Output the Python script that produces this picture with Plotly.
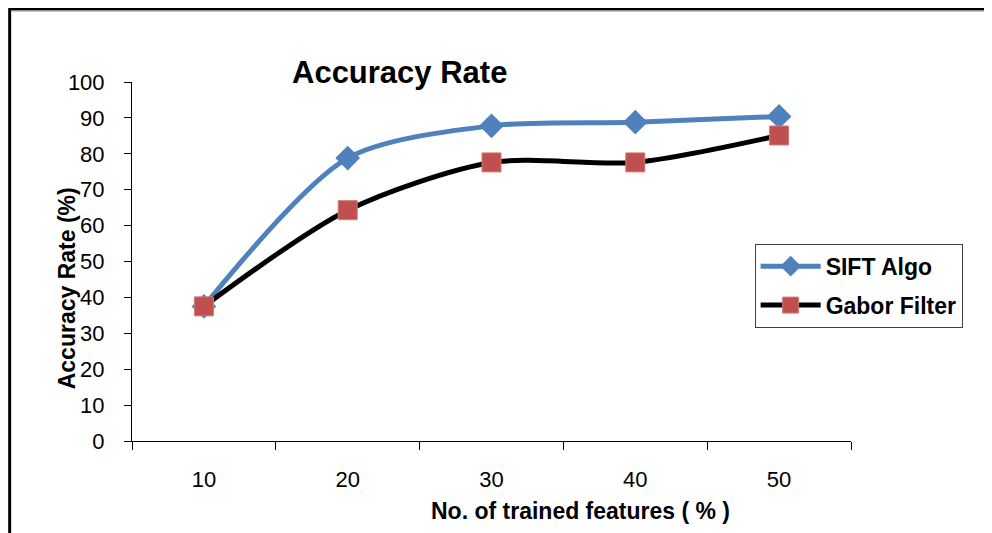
import plotly.graph_objects as go

categories = ["10", "20", "30", "40", "50"]
sift_values = [37.5, 78.8, 87.8, 88.8, 90.4]
gabor_values = [37.5, 64.3, 77.6, 77.6, 85.1]
y_ticks = [0, 10, 20, 30, 40, 50, 60, 70, 80, 90, 100]

FONT = "Liberation Sans, Arial, sans-serif"

# the page body has an 8px margin; work in window pixels and shift
OFF = 8
FIG_W, FIG_H = 992 - OFF, 533 - OFF

fig = go.Figure()
fig.add_trace(go.Scatter(
    x=categories, y=sift_values, name="SIFT Algo", legendgroup="a",
    mode="lines+markers",
    line=dict(color="#4F81BD", width=5, shape="spline", smoothing=0.8),
    marker=dict(symbol="diamond", size=19, color="#4F81BD"),
))
fig.add_trace(go.Scatter(
    x=categories, y=gabor_values, name="Gabor Filter", legendgroup="b",
    mode="lines+markers",
    line=dict(color="black", width=5, shape="spline", smoothing=0.8),
    marker=dict(symbol="square", size=19, color="#C0504D",
                line=dict(color="#D27A78", width=1)),
))

# plot area in window pixels
L, T, R, B = 131.5, 82, 851.5, 441.5
W, H = R - L, B - T

def px(x):
    return (x - L) / W

def py(y):
    return (B - y) / H

fig.update_layout(
    width=FIG_W, height=FIG_H,
    margin=dict(l=L - OFF, r=992 - R, t=T - OFF, b=533 - B),
    paper_bgcolor="white", plot_bgcolor="white",
    font=dict(family=FONT, color="black", size=22),
    showlegend=True,
    legend=dict(
        x=px(755), y=py(244), xanchor="left", yanchor="top",
        bordercolor="#404040", borderwidth=1, bgcolor="white",
        font=dict(family=FONT, size=23, color="black", weight="bold"),
        itemwidth=60, tracegroupgap=6,
    ),
    xaxis=dict(
        type="category", range=[-0.5, 4.5],
        showline=True, linecolor="black", linewidth=1,
        ticks="outside", ticklen=8, tickcolor="black", tickson="boundaries",
        showgrid=False, zeroline=False,
        tickfont=dict(family=FONT, size=22, color="black"),
        ticklabelstandoff=19,
        fixedrange=True,
    ),
    yaxis=dict(
        range=[0, 100], tickvals=y_ticks,
        showline=True, linecolor="black", linewidth=1,
        ticks="outside", ticklen=7, tickcolor="black",
        showgrid=False, zeroline=False,
        tickfont=dict(family=FONT, size=22, color="black"),
        ticklabelstandoff=15,
    ),
    annotations=[
        dict(text="<b>Accuracy Rate</b>", xref="paper", yref="paper",
             x=px(399), y=py(72), xanchor="center", yanchor="middle",
             showarrow=False, font=dict(family=FONT, size=31, color="black")),
        dict(text="<b>No. of trained features ( % )</b>", xref="paper", yref="paper",
             x=px(581), y=py(512), xanchor="center", yanchor="middle",
             showarrow=False, font=dict(family=FONT, size=23, color="black")),
        dict(text="<b>Accuracy Rate (%)</b>", xref="paper", yref="paper",
             x=px(66), y=py(289), xanchor="center", yanchor="middle",
             showarrow=False, textangle=-90,
             font=dict(family=FONT, size=23, color="black")),
    ],
    shapes=[
        dict(type="rect", xref="paper", yref="paper",
             x0=px(9), y0=py(9), x1=px(1010), y1=py(560),
             line=dict(color="black", width=3), fillcolor="rgba(0,0,0,0)"),
        dict(type="line", xref="paper", yref="paper",
             x0=px(11), y0=py(11), x1=px(1010), y1=py(11),
             line=dict(color="#A0A0A0", width=1)),
    ],
)

fig.write_html("out.html")
